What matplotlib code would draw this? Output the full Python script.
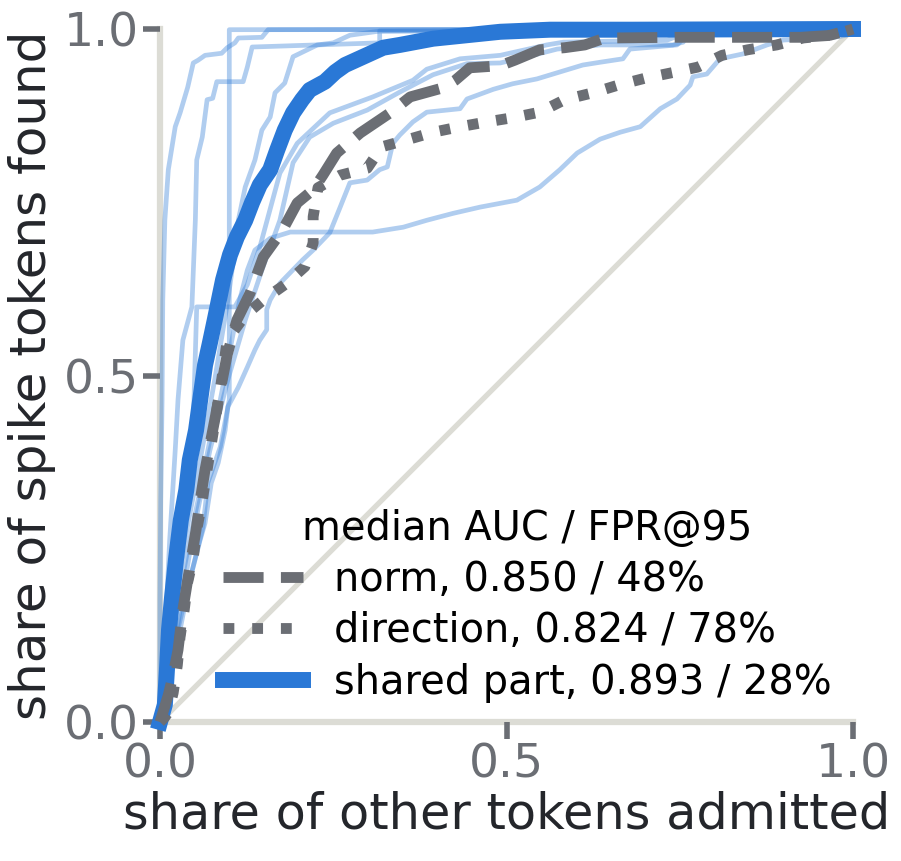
import matplotlib
matplotlib.use("Agg")
import matplotlib.pyplot as plt

# median curves (share of other tokens admitted -> share of spike tokens found)
shared_x = [0, .007, .010, .013, .017, .023, .030, .038, .043, .052, .058, .065, .072, .079, .091, .101, .111,
            .123, .133, .144, .159, .169, .180, .192, .205, .216, .238, .253, .267, .289, .322, .346, .394, .491,
            .563, .683, 1]
shared_y = [0, .025, .075, .133, .176, .234, .291, .335, .378, .421, .465, .515, .547, .580, .638, .674, .700,
            .724, .750, .775, .797, .825, .854, .879, .898, .912, .924, .938, .948, .958, .973, .977, .986, .996,
            .999, .999, 1]

norm_x = [0, .004, .012, .019, .026, .033, .040, .046, .052, .058, .065, .072, .079, .087, .097, .111, .130,
          .149, .177, .198, .221, .235, .255, .289, .332, .361, .408, .426, .447, .491, .512, .548, .584, .613,
          .642, .746, .924, .971, 1]
norm_y = [0, .013, .039, .068, .104, .162, .205, .241, .277, .320, .364, .400, .436, .479, .530, .580, .619,
          .671, .710, .749, .768, .789, .821, .850, .879, .902, .915, .926, .944, .947, .955, .970, .973, .977,
          .987, .988, .988, .991, 1]

direction_x = [0, .007, .012, .019, .025, .029, .035, .040, .048, .053, .061, .068, .075, .082, .089, .097,
               .123, .149, .180, .209, .221, .221, .228, .260, .299, .320, .356, .394, .433, .472, .509, .548,
               .584, .625, .661, .700, .739, .776, .811, .848, .890, .928, .967, 1]
direction_y = [0, .007, .014, .042, .082, .123, .162, .202, .237, .277, .320, .364, .407, .450, .494, .551,
               .587, .609, .631, .657, .691, .729, .771, .789, .799, .830, .840, .851, .859, .866, .872, .880,
               .898, .908, .919, .929, .937, .945, .962, .970, .977, .987, .991, 1]

# individual runs of the shared-part detector
run_a_x = [0, 0, .001, .003, .004, .007, .012, .022, .029, .040, .048, .055, .065, .089, .097, .108, .113,
           .147, .156, 1]
run_a_y = [0, .176, .320, .465, .609, .724, .797, .859, .879, .916, .951, .955, .962, .965, .973, .980, .987,
           .988, .999, 1]
run_b_x = [0, .022, .043, .062, .069, .087, .100, .100, 1]
run_b_y = [0, .118, .205, .281, .345, .397, .465, .999, 1]
run_c_x = [0, .007, .014, .022, .026, .033, .046, .051, .053, .061, .068, .076, .082, .120, .126, .133, .317,
           .317, 1]
run_c_y = [0, .118, .263, .393, .465, .551, .599, .724, .811, .844, .898, .900, .924, .924, .945, .974, .980,
           .997, 1]
run_d_x = [0, .014, .036, .058, .079, .098, .108, .113, .123, .137, .147, .159, .166, .180, .192, .227, .250,
           .274, .317, 1]
run_d_y = [0, .133, .263, .378, .494, .609, .681, .724, .772, .811, .854, .873, .908, .922, .960, .977, .980,
           .991, .997, 1]
run_e_x = [0, .009, .017, .029, .045, .049, .053, .108, .126, .144, .173, .198, .245, .307, .365, .385, .433,
           .491, .558, .582, .732, .750, 1]
run_e_y = [0, .118, .205, .277, .345, .465, .599, .599, .631, .685, .792, .835, .879, .902, .926, .942, .957,
           .962, .977, .981, .984, .991, 1]
run_f_x = [0, .022, .046, .072, .098, .123, .147, .173, .192, .216, .250, .299, .346, .394, .443, .491, .538,
           .573, .635, .740, .755, .760, 1]
run_f_y = [0, .118, .263, .392, .494, .580, .652, .724, .807, .844, .864, .883, .909, .934, .950, .951, .962,
           .971, .977, .977, .981, .993, 1]
run_g_x = [0, .014, .029, .043, .058, .065, .074, .084, .094, .098, .113, .126, .137, .144, .154, .154, .159,
           .173, .206, .221, .245, .260, .274, .299, .317, .328, .336, .346, .365, .385, .433, .443, .481, .509,
           .544, .577, .610, .635, .668, .678, .746, .755, .808, 1]
run_g_y = [0, .061, .133, .205, .263, .287, .345, .374, .421, .455, .483, .512, .537, .551, .566, .595, .609,
           .633, .667, .681, .706, .743, .778, .782, .797, .801, .835, .847, .866, .880, .885, .899, .913, .921,
           .928, .938, .948, .952, .957, .971, .977, .986, .994, 1]
run_h_x = [0, .012, .026, .043, .058, .072, .087, .101, .115, .126, .137, .159, .188, .307, .351, .385, .423,
           .462, .515, .548, .577, .602, .635, .664, .693, .722, .746, .765, .769, .789, .808, .841, .876, .899,
           .971, .991, 1]
run_h_y = [0, .089, .176, .263, .335, .407, .465, .537, .609, .652, .681, .698, .707, .707, .714, .724, .734,
           .743, .753, .772, .797, .821, .841, .851, .859, .885, .899, .919, .931, .935, .957, .964, .977, .984,
           .988, .991, 1]

runs = [(run_a_x, run_a_y), (run_b_x, run_b_y), (run_c_x, run_c_y), (run_d_x, run_d_y),
        (run_e_x, run_e_y), (run_f_x, run_f_y), (run_g_x, run_g_y), (run_h_x, run_h_y)]

labels = ["norm, 0.850 / 48%", "direction, 0.824 / 78%", "shared part, 0.893 / 28%"]

BLUE = "#2a78d6"
GRAY = "#6b6e74"
LIGHT = "#dcdcd5"

fig = plt.figure(figsize=(9.01, 8.61), dpi=100)
ax = fig.add_axes([160 / 901, 139 / 861, 693 / 901, 693 / 861])

ax.plot([0, 1], [0, 1], color=LIGHT, lw=3.8, zorder=1, clip_on=False)

for xs, ys in runs:
    ax.plot(xs, ys, color=BLUE, alpha=0.37, lw=3.4, zorder=2, clip_on=False)

l_shared, = ax.plot(shared_x, shared_y, color=BLUE, lw=11.5, zorder=4, clip_on=False)
l_norm, = ax.plot(norm_x, norm_y, color=GRAY, lw=7.8, ls="--", zorder=5, clip_on=False)
l_dir, = ax.plot(direction_x, direction_y, color=GRAY, lw=7.8, ls=":", zorder=5, clip_on=False)

ax.set_xlim(0, 1)
ax.set_ylim(0, 1)
ax.set_xticks([0, 0.5, 1])
ax.set_yticks([0, 0.5, 1])
ax.set_xticklabels(["0.0", "0.5", "1.0"])
ax.set_yticklabels(["0.0", "0.5", "1.0"])

for side in ["top", "right"]:
    ax.spines[side].set_visible(False)
for side in ["left", "bottom"]:
    ax.spines[side].set_color(LIGHT)
    ax.spines[side].set_linewidth(4.5)
    ax.spines[side].set_zorder(0)

ax.tick_params(length=12, width=4, color=GRAY, labelcolor=GRAY, labelsize=34, pad=3)

ax.set_xlabel("share of other tokens admitted", fontsize=35.6, color="#24262b", labelpad=2)
ax.set_ylabel("share of spike tokens found", fontsize=36, color="#24262b", labelpad=6)

ax.legend([l_norm, l_dir, l_shared], labels, title="median AUC / FPR@95", fontsize=28.7,
          title_fontsize=28.7, frameon=False, loc="lower right", bbox_to_anchor=(1.016, -0.018),
          handlelength=2.0, labelspacing=0.28, borderpad=0.3)

fig.savefig("out.png", dpi=100)
